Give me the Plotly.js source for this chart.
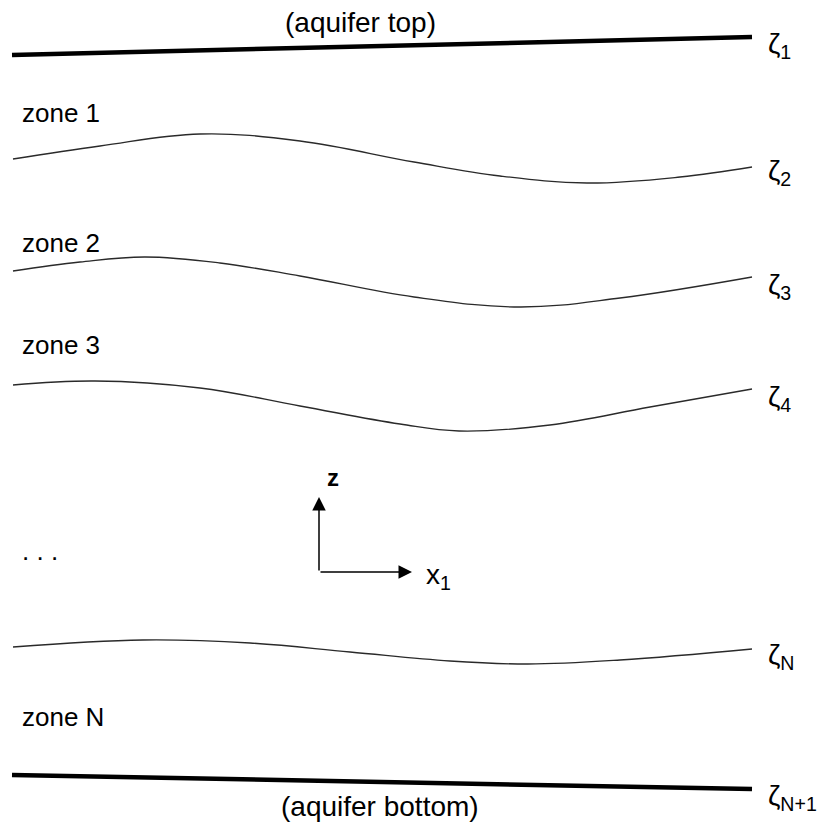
<!DOCTYPE html>
<html>
<head>
<meta charset="utf-8">
<script src="https://cdn.plot.ly/plotly-3.0.1.min.js"></script>
<style>
  html, body { margin: 0; padding: 0; background: #ffffff; }
  #diagram { width: 828px; height: 825px; }
</style>
</head>
<body>
<div id="diagram"></div>
<script>
// Interfaces between the aquifer zones: horizontal position x1 and elevation z.
const topX = [12, 752];
const topZ = [770, 788];

const zeta2X = [13, 100, 200, 300, 414, 500, 587, 680, 752];
const zeta2Z = [666, 679, 691, 684, 663, 649, 642, 648, 658];

const zeta3X = [13, 80, 145, 220, 300, 414, 520, 620, 752];
const zeta3Z = [554, 563, 568, 562, 549, 528, 518, 527, 548];

const zeta4X = [13, 95, 200, 300, 400, 459, 550, 650, 752];
const zeta4Z = [440, 444, 437, 419, 401, 394, 400, 418, 436];

const zetaNX = [13, 143, 250, 350, 450, 528, 620, 752];
const zetaNZ = [178, 185, 182, 173, 164, 161, 165, 176];

const bottomX = [12, 752];
const bottomZ = [50, 36];

// Interface names at the right end, zone names on the left.
const interfaceLabels = ['ζ<sub>1</sub>', 'ζ<sub>2</sub>', 'ζ<sub>3</sub>', 'ζ<sub>4</sub>', 'ζ<sub>N</sub>', 'ζ<sub>N+1</sub>'];
const interfaceLabelZ = [780, 653, 539, 427, 169, 28];
const zoneLabels = ['zone 1', 'zone 2', 'zone 3', '. . .', 'zone N'];
const zoneLabelZ = [712, 582, 480, 274, 108];

// Coordinate axes sketch: origin and arrow tips.
const originX = 319, originZ = 253;
const zTipZ = 328, x1TipX = 412;

const font = 'Liberation Sans, Arial, Helvetica, sans-serif';

function thin(x, z) {
  return { x: x, y: z, mode: 'lines', hoverinfo: 'skip',
           line: { color: '#2a2a2a', width: 1.3, shape: 'spline', smoothing: 1.1 } };
}
function thick(x, z) {
  return { x: x, y: z, mode: 'lines', hoverinfo: 'skip',
           line: { color: '#000000', width: 4.5 } };
}

const traces = [
  thick(topX, topZ),
  thin(zeta2X, zeta2Z),
  thin(zeta3X, zeta3Z),
  thin(zeta4X, zeta4Z),
  thin(zetaNX, zetaNZ),
  thick(bottomX, bottomZ)
];

const annotations = [];
interfaceLabels.forEach((t, i) => {
  annotations.push({ x: 766, y: interfaceLabelZ[i], xref: 'x', yref: 'y', text: t,
    showarrow: false, xanchor: 'left', yanchor: 'middle',
    font: { family: font, size: 28, color: '#000' } });
});
zoneLabels.forEach((t, i) => {
  annotations.push({ x: 20, y: zoneLabelZ[i], xref: 'x', yref: 'y', text: t,
    showarrow: false, xanchor: 'left', yanchor: 'middle',
    font: { family: font, size: 26, color: '#000' } });
});
annotations.push({ x: 360, y: 803, xref: 'x', yref: 'y', text: '(aquifer top)',
  showarrow: false, xanchor: 'center', yanchor: 'middle',
  font: { family: font, size: 28, color: '#000' } });
annotations.push({ x: 380, y: 19, xref: 'x', yref: 'y', text: '(aquifer bottom)',
  showarrow: false, xanchor: 'center', yanchor: 'middle',
  font: { family: font, size: 28, color: '#000' } });
annotations.push({ x: 333, y: 348, xref: 'x', yref: 'y', text: '<b>z</b>', showarrow: false,
  xanchor: 'center', yanchor: 'middle', font: { family: font, size: 24, color: '#000' } });
annotations.push({ x: 424, y: 249, xref: 'x', yref: 'y', text: 'x<sub>1</sub>', showarrow: false,
  xanchor: 'left', yanchor: 'middle', font: { family: font, size: 28, color: '#000' } });

// z and x1 arrows drawn from the origin of the axes sketch
const arrowStyle = { arrowhead: 2, arrowsize: 1.8, arrowwidth: 1.5, arrowcolor: '#000' };
annotations.push(Object.assign({ x: originX, y: zTipZ, ax: originX, ay: originZ,
  xref: 'x', yref: 'y', axref: 'x', ayref: 'y', text: '', showarrow: true }, arrowStyle));
annotations.push(Object.assign({ x: x1TipX, y: originZ, ax: originX, ay: originZ,
  xref: 'x', yref: 'y', axref: 'x', ayref: 'y', text: '', showarrow: true }, arrowStyle));

const layout = {
  width: 828, height: 825,
  margin: { l: 0, r: 0, t: 0, b: 0, pad: 0 },
  paper_bgcolor: '#ffffff', plot_bgcolor: '#ffffff',
  showlegend: false,
  dragmode: false,
  hovermode: false,
  xaxis: { range: [0, 828], visible: false, fixedrange: true },
  yaxis: { range: [0, 825], visible: false, fixedrange: true },
  annotations: annotations
};

Plotly.newPlot('diagram', traces, layout, { displayModeBar: false });
</script>
</body>
</html>
